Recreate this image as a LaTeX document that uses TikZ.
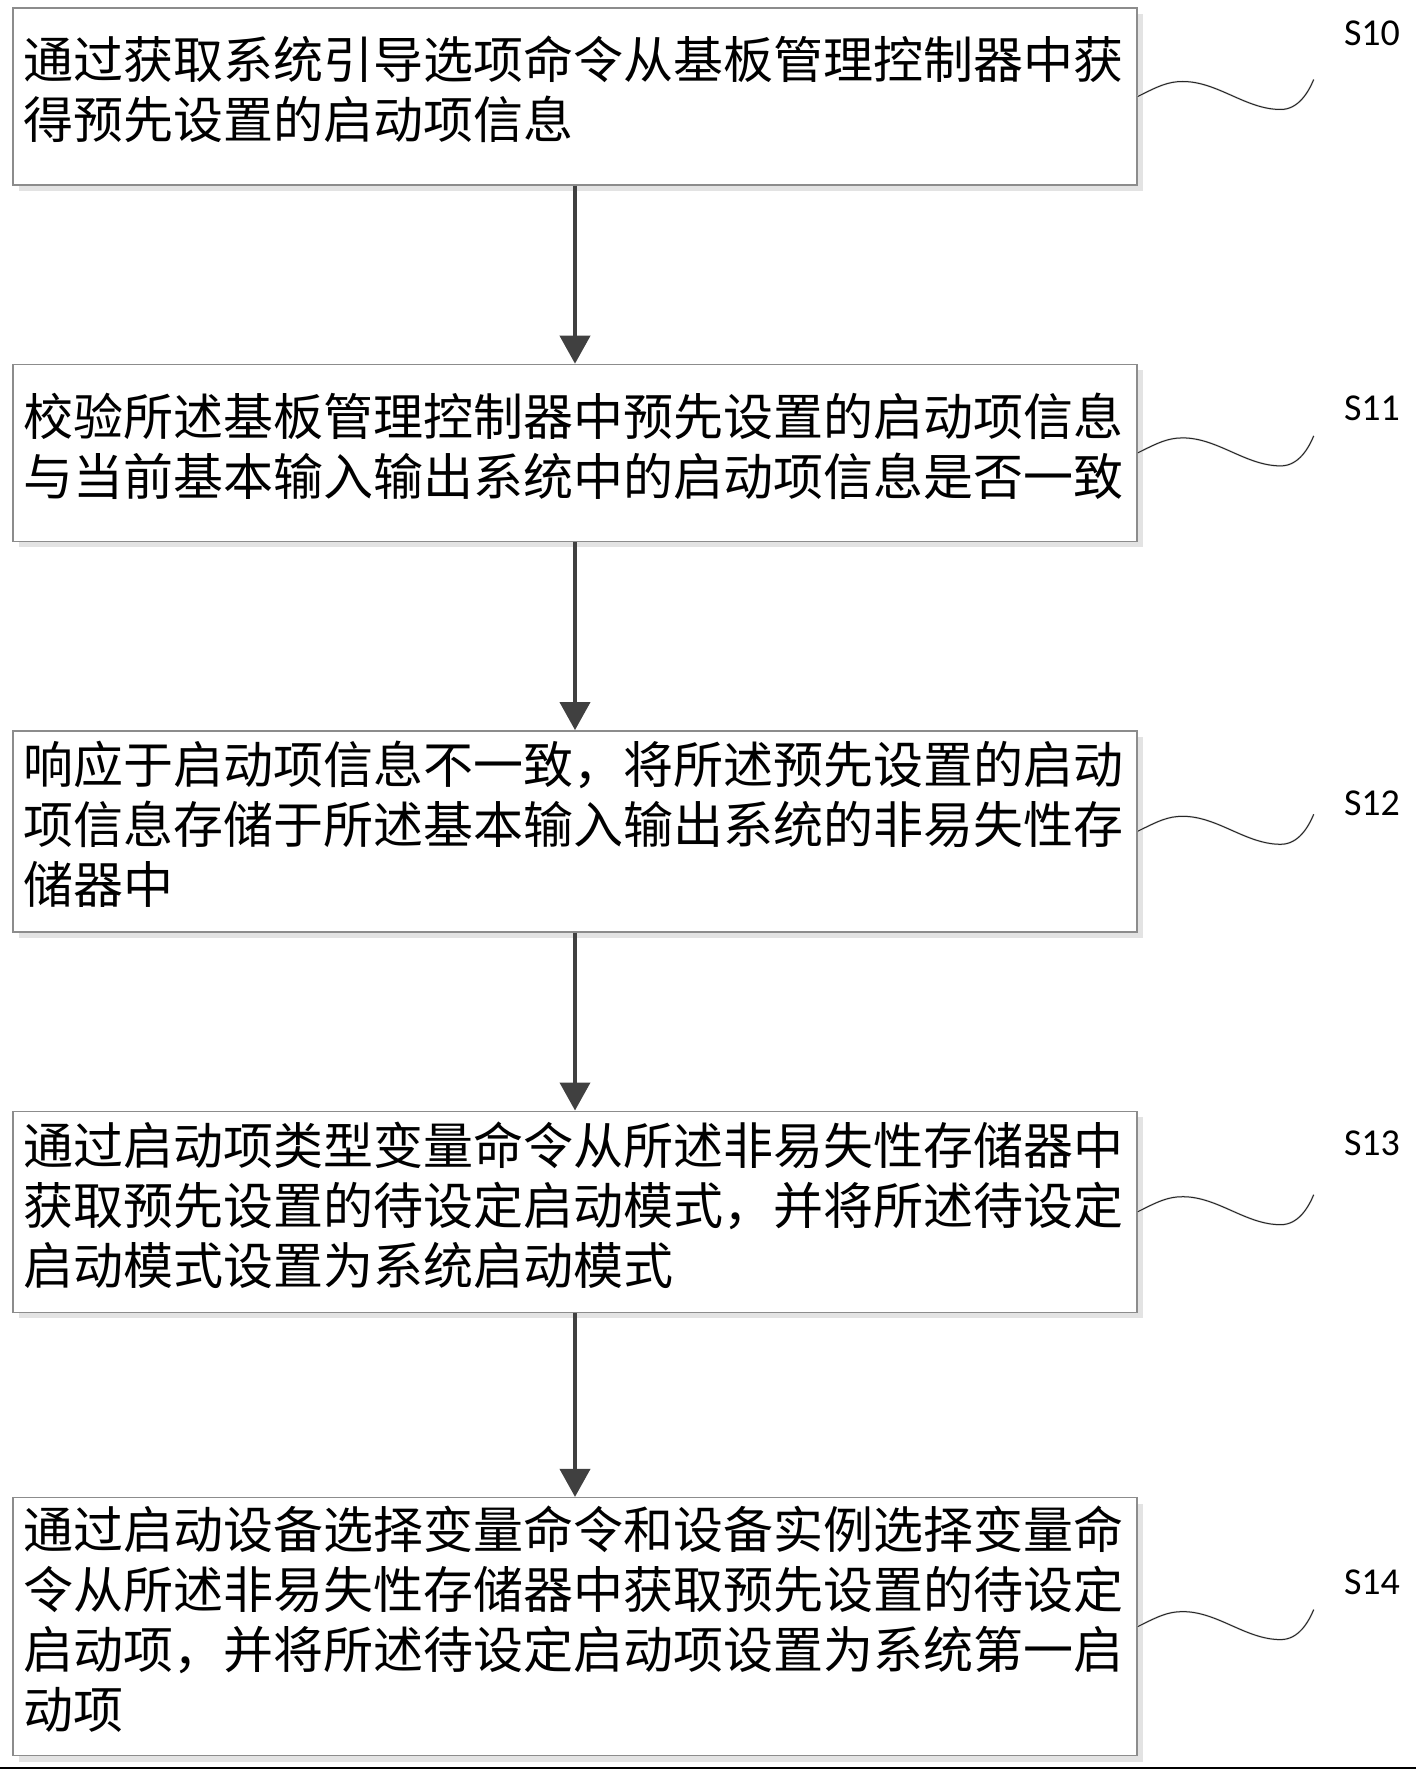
\documentclass[tikz,border=0pt]{standalone}
\usepackage{fontspec}
\setmainfont{Carlito}
\newfontfamily\cjk{Noto Sans CJK SC}
\usetikzlibrary{arrows.meta, positioning, shadows}

\begin{document}
\begin{tikzpicture}[
    x=0.5pt, y=-0.5pt,
    node distance=89pt,
    stepbox/.style={draw=gray!90, line width=0.7pt, fill=white, rectangle,
                    minimum width=562pt, text width=552pt, inner xsep=5pt,
                    minimum height=#1, align=left,
                    font=\cjk\fontsize{25}{30}\selectfont,
                    execute at end node={\rule[-9pt]{0pt}{1pt}},
                    general shadow={fill=gray!22, shadow xshift=3pt, shadow yshift=-3pt}},
    stepbox/.default=88.5pt,
    arr/.style={-{Triangle[length=14pt, width=15pt]}, line width=2pt, black!75},
    wave/.style={line width=0.5pt, black!85},
    waveshadow/.style={line width=1pt, gray!25, xshift=1pt, yshift=-1.5pt},
    tag/.style={font=\fontsize{19}{22}\selectfont},
]
\useasboundingbox (0,0) rectangle (1416,1770);

% Steps
\node[stepbox]                        at (575,96.5) (s10) {通过获取系统引导选项命令从基板管理控制器中获\\得预先设置的启动项信息};
\node[stepbox, below=89pt of s10]                   (s11) {校验所述基板管理控制器中预先设置的启动项信息\\与当前基本输入输出系统中的启动项信息是否一致};
\node[stepbox=100.5pt, below=94pt of s11]           (s12) {响应于启动项信息不一致，将所述预先设置的启动\\项信息存储于所述基本输入输出系统的非易失性存\\储器中};
\node[stepbox=100.5pt, below=89pt of s12]           (s13) {通过启动项类型变量命令从所述非易失性存储器中\\获取预先设置的待设定启动模式，并将所述待设定\\启动模式设置为系统启动模式};
\node[stepbox=129pt, below=92pt of s13]             (s14) {通过启动设备选择变量命令和设备实例选择变量命\\令从所述非易失性存储器中获取预先设置的待设定\\启动项，并将所述待设定启动项设置为系统第一启\\动项};

% Step labels
\node[tag] at (1372,33)   (t10) {S10};
\node[tag] at (1372,408)  (t11) {S11};
\node[tag] at (1372,803)  (t12) {S12};
\node[tag] at (1372,1143) (t13) {S13};
\node[tag] at (1372,1582) (t14) {S14};

% Arrows
\draw[arr] (s10) -- (s11);
\draw[arr] (s11) -- (s12);
\draw[arr] (s12) -- (s13);
\draw[arr] (s13) -- (s14);

% Leader waves
\foreach \s in {s10,s11,s12,s13,s14} {
  \draw[waveshadow] (\s.east) .. controls +(20,-10) and +(-15,0) .. ++(45,-15)
        .. controls +(35,0) and +(-35,0) .. ++(98,28)
        .. controls +(18,0) and +(-5,12) .. ++(33,-30);
  \draw[wave] (\s.east) .. controls +(20,-10) and +(-15,0) .. ++(45,-15)
        .. controls +(35,0) and +(-35,0) .. ++(98,28)
        .. controls +(18,0) and +(-5,12) .. ++(33,-30);
}

% Scan edge
\draw[line width=1pt] (0,1768) -- (1416,1768);
\end{tikzpicture}
\end{document}
